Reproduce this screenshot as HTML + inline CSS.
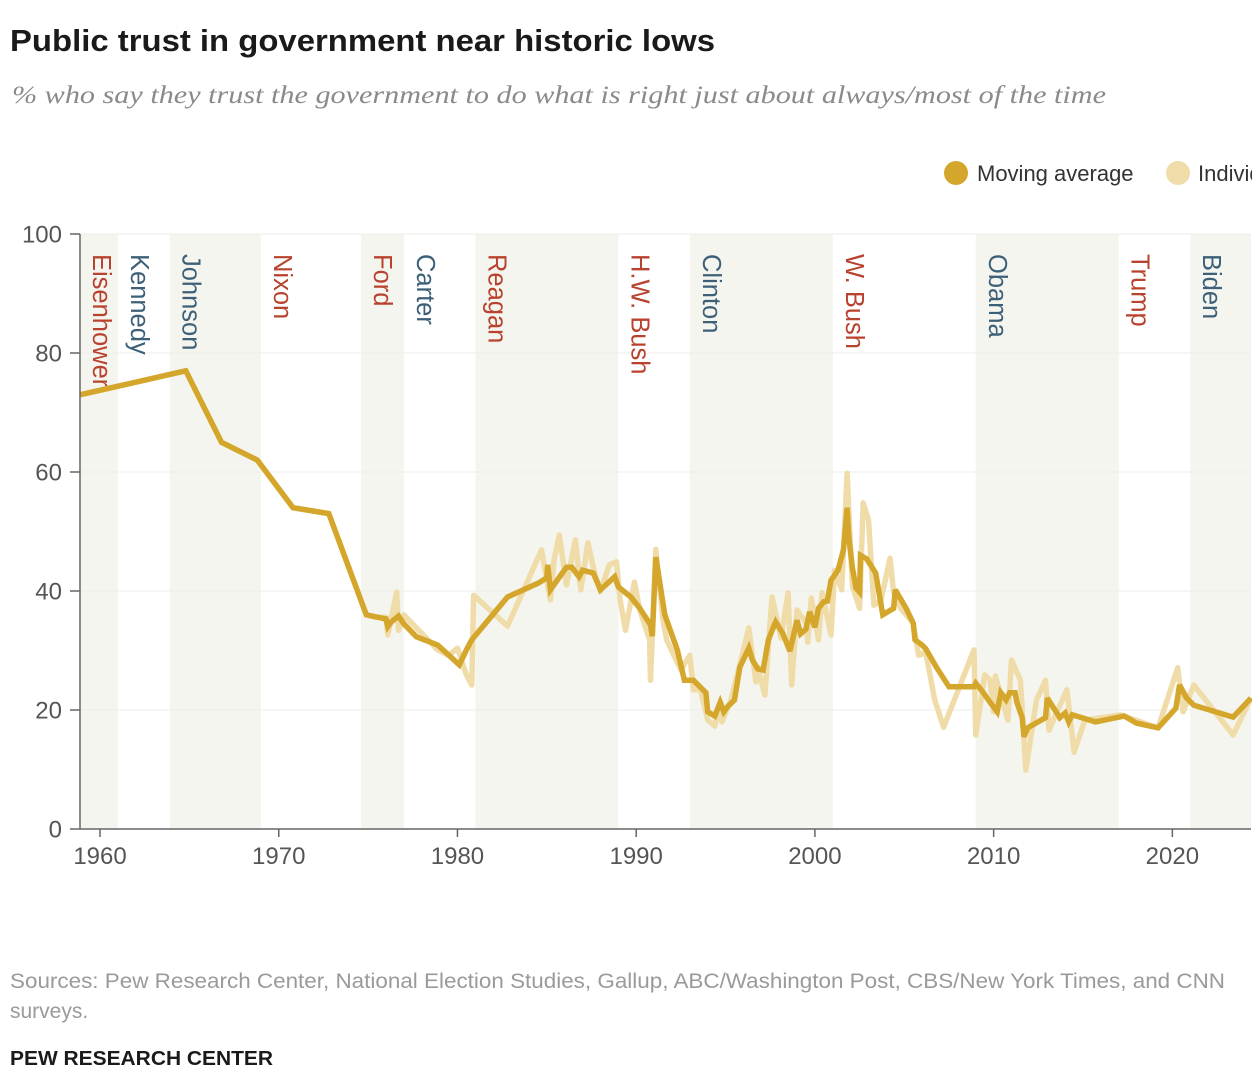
<!DOCTYPE html>
<html><head><meta charset="utf-8">
<style>
html,body{margin:0;padding:0;background:#fff;width:1252px;height:1086px;overflow:hidden}
svg{display:block;font-family:"Liberation Sans",sans-serif}
</style></head>
<body>
<svg id="chart" width="1252" height="1086" viewBox="0 0 1252 1086">
<text x="10" y="51" font-size="31" font-weight="bold" fill="#1a1a1a" textLength="705" lengthAdjust="spacingAndGlyphs">Public trust in government near historic lows</text>
<text x="12" y="103" font-size="25" font-style="italic" fill="#8a8a8a" font-family="Liberation Serif, serif" textLength="1094" lengthAdjust="spacingAndGlyphs">% who say they trust the government to do what is right just about always/most of the time</text>
<g>
<g><circle cx="956" cy="173" r="12" fill="#d4a72c"/><text x="977" y="181" font-size="22" fill="#333">Moving average</text></g>
<g><circle cx="1178" cy="173" r="12" fill="#efdca9"/><text x="1198" y="181" font-size="22" fill="#333">Individual polls</text></g>
</g>
<g id="bands"></g>
<g id="grid"></g>
<g id="plabels"></g>
<g id="series"></g>
<g id="axes"></g>
<text x="10" y="988" font-size="21" fill="#9a9a9a" textLength="1215" lengthAdjust="spacingAndGlyphs">Sources: Pew Research Center, National Election Studies, Gallup, ABC/Washington Post, CBS/New York Times, and CNN</text>
<text x="10" y="1018" font-size="21" fill="#9a9a9a">surveys.</text>
<text x="10" y="1065" font-size="20" font-weight="bold" fill="#1a1a1a" textLength="263" lengthAdjust="spacingAndGlyphs">PEW RESEARCH CENTER</text>
</svg>
<script>
const maYears=[1958.9,1964.8,1966.8,1968.8,1970.8,1972.8,1974.9,1976.0,1976.1,1976.3,1976.7,1977.0,1977.7,1978.9,1980.1,1980.5,1980.8,1982.8,1984.5,1985.0,1985.05,1985.2,1986.1,1986.4,1986.8,1987.0,1987.6,1988.0,1988.8,1989.0,1989.7,1990.2,1990.8,1990.9,1991.1,1991.6,1992.3,1992.7,1993.2,1993.9,1994.0,1994.4,1994.7,1994.9,1995.1,1995.5,1995.8,1996.3,1996.5,1996.8,1997.1,1997.4,1997.8,1998.2,1998.6,1999.0,1999.2,1999.5,1999.7,2000.0,2000.2,2000.5,2000.7,2000.9,2001.3,2001.6,2001.8,2001.9,2002.1,2002.3,2002.5,2002.55,2002.9,2003.4,2003.8,2004.4,2004.5,2005.1,2005.5,2005.6,2006.0,2006.2,2006.8,2007.5,2008.9,2009.0,2009.4,2009.8,2010.2,2010.4,2010.7,2010.9,2011.2,2011.3,2011.6,2011.7,2011.9,2012.9,2013.0,2013.7,2014.0,2014.2,2014.4,2015.7,2017.3,2018.0,2019.2,2020.2,2020.4,2020.8,2021.2,2023.4,2024.4];
const maValues=[73,77,65,62,54,53,36,35.3,34,34.8,35.8,34.5,32.3,30.9,27.6,30.1,31.8,39,41.3,42.2,44.4,40.2,44,44,42.4,43.5,43,40.2,42.4,40.7,39,37.1,34.3,32.4,45.7,36,30.1,25,25,22.9,19.7,19,21.3,19.7,20.5,21.7,27.2,30.4,28.4,26.9,26.7,31.8,34.8,32.9,29.9,35.1,32.8,33.6,36.5,33.9,37.1,38.2,38.3,41.8,43.5,47,54,48.9,43.9,40.5,39.8,46,45.4,43,36,37.1,40.2,37.1,34.6,31.8,30.9,30.3,27.2,23.9,23.9,24.5,23,21.3,19.7,22.9,21.7,22.9,22.9,21.3,18.7,15.5,17,18.7,22,18.7,19.5,18,19.2,18,19,17.8,17,20.3,24.2,22,20.8,18.8,22];
const pollYears=[1958.9,1964.8,1966.8,1968.8,1970.8,1972.8,1974.9,1975.4,1976.0,1976.1,1976.6,1976.7,1977.0,1977.7,1978.9,1979.5,1980.0,1980.5,1980.8,1980.9,1982.8,1984.7,1985.2,1985.4,1985.7,1986.1,1986.6,1986.9,1987.3,1987.7,1988.0,1988.5,1988.9,1989.1,1989.4,1989.9,1990.2,1990.75,1990.8,1991.1,1991.5,1991.7,1992.5,1993.0,1993.2,1993.6,1994.0,1994.4,1994.6,1994.8,1995.3,1995.8,1996.3,1996.7,1996.8,1997.2,1997.6,1998.1,1998.5,1998.7,1999.0,1999.5,1999.6,1999.8,2000.2,2000.4,2000.9,2001.1,2001.5,2001.8,2002.1,2002.5,2002.7,2003.0,2003.3,2003.7,2004.2,2004.4,2004.8,2005.5,2005.8,2006.2,2006.7,2007.2,2008.9,2009.0,2009.5,2009.8,2010.0,2010.1,2010.8,2011.0,2011.5,2011.8,2012.4,2012.9,2013.1,2014.1,2014.5,2015.1,2017.1,2019.2,2020.3,2020.6,2021.2,2023.4,2024.4];
const pollValues=[73,77,65,62,54,53,36,35.6,35.6,32.6,39.8,33.4,36,33.8,30.1,29.2,30.4,25.9,24.2,39.3,34.1,46.9,38.5,45.2,49.4,41,48.6,40.2,48.1,42.7,40,44.4,44.9,38.5,33.4,41.5,36.8,31.8,25,47,35.1,31.8,26.7,29.2,23.4,23.4,18.3,17.3,20.3,18,21.7,27.6,33.8,24.7,27.2,22.5,39,32.1,39.7,24.2,36.8,34.6,31.4,38.8,31.8,39.7,32.6,43.5,40.2,59.8,40.8,37.1,54.8,51.9,37.6,38.5,45.5,39.8,37.1,34.6,29.2,29.7,21.7,17.1,30.1,15.8,25.9,25,19.7,25.7,18.3,28.4,25,9.9,21.7,25,16.6,23.4,12.9,18.3,19.2,17,27.1,19.7,24.2,15.8,22];
const presidents=["Eisenhower","Kennedy","Johnson","Nixon","Ford","Carter","Reagan","H.W. Bush","Clinton","W. Bush","Obama","Trump","Biden"];
const presStart=[1953,1961,1963.9,1969,1974.6,1977,1981,1989,1993,2001,2009,2017,2021];
const presParty=["R","D","D","R","R","D","R","R","D","R","D","R","D"];
const yTicks=[0,20,40,60,80,100];
const xTicks=[1960,1970,1980,1990,2000,2010,2020];

const NS="http://www.w3.org/2000/svg";
const X0=80,X1=1251,Y0=829,Y1=234,YR0=1958.88,YR1=2024.4;
const sx=y=>X0+(y-YR0)/(YR1-YR0)*(X1-X0);
const sy=v=>Y0-v/100*(Y0-Y1);
function mk(tag,attrs,parent){const e=document.createElementNS(NS,tag);for(const k in attrs)e.setAttribute(k,attrs[k]);parent.appendChild(e);return e;}
const bands=document.getElementById('bands'),grid=document.getElementById('grid'),pl=document.getElementById('plabels'),series=document.getElementById('series'),axes=document.getElementById('axes');
presidents.forEach((p,i)=>{
  const a=Math.max(presStart[i],YR0),b=i+1<presStart.length?presStart[i+1]:YR1;
  if(i%2===0){const r=mk('rect',{x:sx(a),y:Y1,width:sx(b)-sx(a),height:Y0-Y1,fill:'#f5f5ef'},bands);
    
    }
  const lx=i===0?101:sx(a)+21;
  const t=mk('text',{x:0,y:0,transform:`translate(${lx},254) rotate(90)`,'font-size':25.5,'dominant-baseline':'central',fill:presParty[i]==='R'?'#b8422e':'#3d6079'},pl);
  t.textContent=p;
  
  
});
yTicks.forEach(v=>{
  if(v>0){const g=mk('line',{x1:X0,x2:X1,y1:sy(v),y2:sy(v),stroke:'#eeeeea','stroke-width':1},grid);
    
    }
  const tk=mk('line',{x1:X0-10,x2:X0,y1:sy(v),y2:sy(v),stroke:'#666','stroke-width':1.5},axes);
  
  
  const t=mk('text',{x:X0-18,y:sy(v)+8.5,'font-size':24,fill:'#555','text-anchor':'end'},axes);
  t.textContent=v;
  
  
});
xTicks.forEach(v=>{
  const tk=mk('line',{x1:sx(v),x2:sx(v),y1:Y0,y2:Y0+8,stroke:'#666','stroke-width':1.5},axes);
  
  
  const t=mk('text',{x:sx(v),y:Y0+35,'font-size':24,fill:'#555','text-anchor':'middle'},axes);
  t.textContent=v;
  
  
});
const ya=mk('line',{x1:X0,x2:X0,y1:Y1,y2:Y0,stroke:'#666','stroke-width':1.5},axes);


const xa=mk('line',{x1:X0,x2:X1,y1:Y0,y2:Y0,stroke:'#666','stroke-width':1.5},axes);


const pts=(xs,vs)=>xs.map((y,i)=>sx(y).toFixed(1)+','+sy(vs[i]).toFixed(1)).join(' ');
const pline=mk('polyline',{points:pts(pollYears,pollValues),fill:'none',stroke:'#efdca9','stroke-width':5.5,'stroke-linejoin':'round'},series);


const mline=mk('polyline',{points:pts(maYears,maValues),fill:'none',stroke:'#d4a72c','stroke-width':5.5,'stroke-linejoin':'miter','stroke-miterlimit':3},series);


</script>
</body></html>
